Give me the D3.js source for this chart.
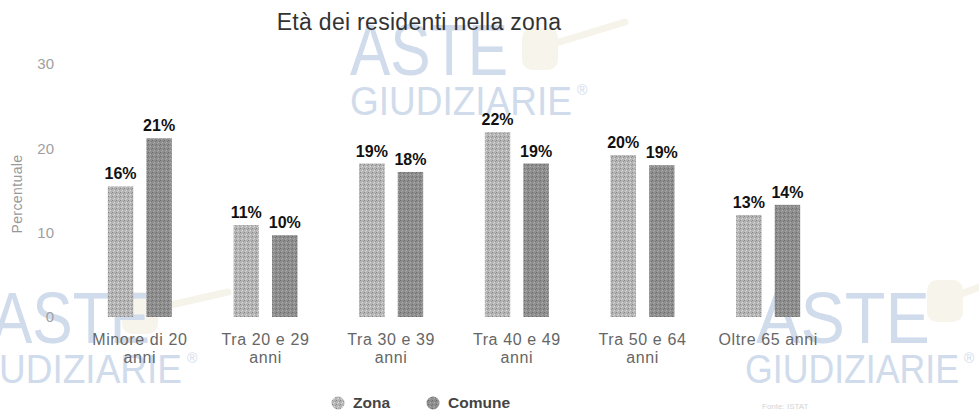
<!DOCTYPE html>
<html lang="it">
<head>
  <meta charset="UTF-8">
  <title>Età dei residenti nella zona</title>
  <script src="https://d3js.org/d3.v7.min.js"></script>
  <style>
    body, html { margin: 0; padding: 0; background: #fff; overflow: hidden; }
    text { font-family: "Liberation Sans", Arial, sans-serif; }
  </style>
</head>
<body>
<script>
  // data
  const categories = [["Minore di 20", "anni"], ["Tra 20 e 29", "anni"], ["Tra 30 e 39", "anni"],
                      ["Tra 40 e 49", "anni"], ["Tra 50 e 64", "anni"], ["Oltre 65 anni"]];
  const seriesNames = ["Zona", "Comune"];
  const zona = [15.5, 10.9, 18.2, 21.9, 19.2, 12.1];
  const comune = [21.2, 9.7, 17.2, 18.2, 18.0, 13.3];
  const zonaLabels = ["16%", "11%", "19%", "22%", "20%", "13%"];
  const comuneLabels = ["21%", "10%", "18%", "19%", "19%", "14%"];
  const yTicks = [0, 10, 20, 30];

  const W = 979, H = 411;
  const colors = ["#b4b4b4", "#8e8e8e"];

  const svg = d3.select("body").append("svg")
    .attr("width", W)
    .attr("height", H);

  // stipple texture like the original bars
  const defs = svg.append("defs");
  colors.forEach((c, i) => {
    const p = defs.append("pattern")
      .attr("id", "tex" + i)
      .attr("width", 4).attr("height", 4)
      .attr("patternUnits", "userSpaceOnUse");
    p.append("rect").attr("width", 4).attr("height", 4).attr("fill", c);
    p.append("rect").attr("x", 0).attr("y", 0).attr("width", 1).attr("height", 1).attr("fill", d3.color(c).darker(0.8));
    p.append("rect").attr("x", 2).attr("y", 2).attr("width", 1).attr("height", 1).attr("fill", d3.color(c).brighter(0.6));
    p.append("rect").attr("x", 3).attr("y", 1).attr("width", 1).attr("height", 1).attr("fill", d3.color(c).darker(0.5));
    p.append("rect").attr("x", 1).attr("y", 3).attr("width", 1).attr("height", 1).attr("fill", d3.color(c).brighter(0.4));
  });

  // watermarks (logo text + faint gavel)
  const wm = svg.append("g");
  function gavel(hx, hy, ex, ey) {
    wm.append("line")
      .attr("x1", hx).attr("y1", hy).attr("x2", ex).attr("y2", ey)
      .attr("stroke", "#f6f3ea").attr("stroke-width", 7).attr("stroke-linecap", "round");
    wm.append("rect")
      .attr("x", hx - 18).attr("y", hy - 20).attr("width", 36).attr("height", 42).attr("rx", 10)
      .attr("fill", "#f7f4ec");
  }
  function watermark(o) {
    const g = wm.append("g").attr("fill", "#d0dbeb");
    g.append("text").attr("x", o.ax).attr("y", o.ay)
      .attr("font-size", 72).attr("textLength", o.aw).attr("lengthAdjust", "spacingAndGlyphs")
      .text("ASTE");
    g.append("text").attr("x", o.gx).attr("y", o.ay + 40)
      .attr("font-size", 40).attr("textLength", o.gw).attr("lengthAdjust", "spacingAndGlyphs")
      .text("GIUDIZIARIE");
    g.append("text").attr("x", o.gx + o.gw + 5).attr("y", o.ay + 20)
      .attr("font-size", 14).text("®");
  }
  gavel(540, 48, 625, 22);
  gavel(140, 312, 228, 292);
  gavel(945, 300, 985, 285);
  watermark({ ax: 350, ay: 75, aw: 158, gx: 350, gw: 222 });
  watermark({ ax: -8, ay: 343, aw: 158, gx: -40, gw: 222 });
  watermark({ ax: 756, ay: 343, aw: 174, gx: 745, gw: 214 });

  const x = d3.scaleBand()
    .domain(d3.range(categories.length))
    .range([77, 831]);

  const xs = d3.scaleBand()
    .domain(seriesNames)
    .range([-32, 32])
    .paddingInner(0.34);

  const y = d3.scaleLinear()
    .domain([0, 30])
    .range([317, 64]);

  // title
  svg.append("text")
    .attr("x", 419).attr("y", 30)
    .attr("text-anchor", "middle")
    .attr("font-size", 23)
    .attr("letter-spacing", 0.3)
    .attr("fill", "#333")
    .text("Età dei residenti nella zona");

  // y axis (labels only)
  const yAxis = d3.axisLeft(y).tickValues(yTicks).tickSize(0).tickPadding(0);
  svg.append("g")
    .attr("transform", "translate(54,0)")
    .call(yAxis)
    .call(g => g.select(".domain").remove())
    .call(g => g.selectAll("text")
      .attr("font-size", 15)
      .attr("fill", "#a0a0a0")
      .attr("font-family", "Liberation Sans, Arial, sans-serif"));

  svg.append("text")
    .attr("transform", "translate(22,194) rotate(-90)")
    .attr("text-anchor", "middle")
    .attr("font-size", 14)
    .attr("letter-spacing", 0.4)
    .attr("fill", "#999")
    .text("Percentuale");

  const series = [zona, comune];
  const labels = [zonaLabels, comuneLabels];

  series.forEach((vals, si) => {
    const name = seriesNames[si];
    const g = svg.append("g");
    g.selectAll("rect")
      .data(vals)
      .join("rect")
      .attr("x", (d, i) => x(i) + x.bandwidth() / 2 + xs(name))
      .attr("y", d => y(d))
      .attr("width", xs.bandwidth())
      .attr("height", d => y(0) - y(d))
      .attr("fill", `url(#tex${si})`);

    g.selectAll("text")
      .data(vals)
      .join("text")
      .attr("x", (d, i) => x(i) + x.bandwidth() / 2 + xs(name) + xs.bandwidth() / 2)
      .attr("y", d => y(d) - 7)
      .attr("text-anchor", "middle")
      .attr("font-size", 16)
      .attr("font-weight", "bold")
      .attr("fill", "#111")
      .text((d, i) => labels[si][i]);
  });

  // category labels
  const cat = svg.append("g");
  categories.forEach((lines, i) => {
    const t = cat.append("text")
      .attr("x", x(i) + x.bandwidth() / 2)
      .attr("y", 345)
      .attr("text-anchor", "middle")
      .attr("font-size", 16)
      .attr("letter-spacing", 0.6)
      .attr("fill", "#666");
    lines.forEach((l, k) => {
      t.append("tspan")
        .attr("x", x(i) + x.bandwidth() / 2)
        .attr("dy", k === 0 ? 0 : 18)
        .text(l);
    });
  });

  // legend
  const legendX = [338, 433];
  seriesNames.forEach((name, i) => {
    svg.append("circle")
      .attr("cx", legendX[i]).attr("cy", 403)
      .attr("r", 6.5)
      .attr("fill", `url(#tex${i})`);
    svg.append("text")
      .attr("x", legendX[i] + 15).attr("y", 408)
      .attr("font-size", 15.5)
      .attr("font-weight", "bold")
      .attr("fill", "#444")
      .text(name);
  });

  svg.append("text")
    .attr("x", 762).attr("y", 409)
    .attr("font-size", 8)
    .attr("fill", "#d4d4d4")
    .text("Fonte: ISTAT");
</script>
</body>
</html>
